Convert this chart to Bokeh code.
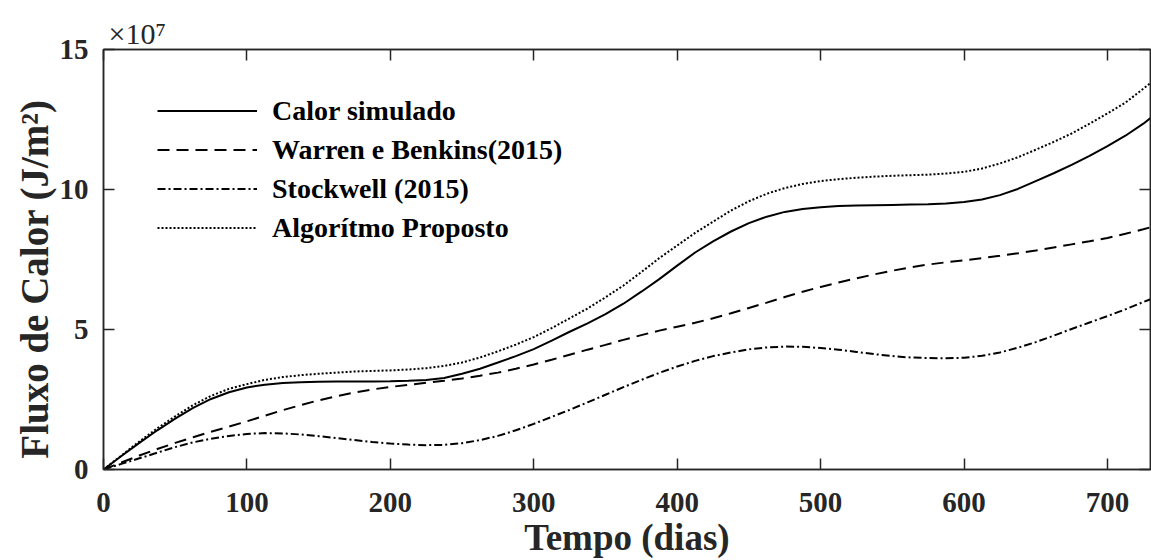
from bokeh.plotting import figure
from bokeh.models import (LinearAxis, Legend, LegendItem, FixedTicker, Range1d,
                          CustomLabelingPolicy)
from bokeh.embed import file_html
from bokeh.resources import INLINE

# ---- data (values in units of 1e7 J/m^2) ----
dias = [0, 12.5, 25, 37.5, 50, 62.5, 75, 87.5, 100, 112.5, 125, 137.5, 150, 162.5,
        175, 187.5, 200, 212.5, 225, 237.5, 250, 262.5, 275, 287.5, 300, 312.5,
        325, 337.5, 350, 362.5, 375, 387.5, 400, 412.5, 425, 437.5, 450, 462.5,
        475, 487.5, 500, 512.5, 525, 537.5, 550, 562.5, 575, 587.5, 600, 612.5,
        625, 637.5, 650, 662.5, 675, 687.5, 700, 712.5, 725, 730]
calor_simulado = [0.0, 0.48, 0.95, 1.4, 1.82, 2.2, 2.52, 2.76, 2.93, 3.03, 3.09, 3.12,
                  3.13, 3.14, 3.14, 3.14, 3.15, 3.17, 3.2, 3.27, 3.42, 3.6, 3.82, 4.05,
                  4.3, 4.6, 4.92, 5.22, 5.55, 5.92, 6.35, 6.8, 7.28, 7.75, 8.15, 8.5,
                  8.8, 9.03, 9.2, 9.3, 9.37, 9.41, 9.43, 9.44, 9.45, 9.46, 9.47, 9.5,
                  9.55, 9.64, 9.8, 10.02, 10.3, 10.58, 10.88, 11.2, 11.55, 11.92,
                  12.35, 12.55]
warren_benkins = [0.0, 0.25, 0.5, 0.73, 0.95, 1.15, 1.35, 1.53, 1.72, 1.92, 2.12, 2.3,
                  2.47, 2.62, 2.75, 2.86, 2.95, 3.02, 3.1, 3.17, 3.25, 3.35, 3.46, 3.6,
                  3.75, 3.92, 4.1, 4.28, 4.45, 4.63, 4.8, 4.96, 5.1, 5.24, 5.4, 5.58,
                  5.77, 5.96, 6.16, 6.35, 6.52, 6.68, 6.83, 6.97, 7.1, 7.22, 7.32, 7.4,
                  7.47, 7.55, 7.63, 7.72, 7.82, 7.93, 8.04, 8.15, 8.27, 8.42, 8.58,
                  8.65]
stockwell = [0.0, 0.2, 0.4, 0.6, 0.8, 0.97, 1.1, 1.2, 1.27, 1.3, 1.29, 1.25, 1.19,
             1.12, 1.05, 0.98, 0.93, 0.89, 0.87, 0.88, 0.94, 1.05, 1.2, 1.4, 1.63,
             1.88, 2.13, 2.4, 2.67, 2.94, 3.2, 3.45, 3.68, 3.88, 4.05, 4.18, 4.29,
             4.36, 4.39, 4.38, 4.34, 4.28, 4.2, 4.12, 4.05, 4.0, 3.98, 3.97, 3.99,
             4.06, 4.18, 4.35, 4.55, 4.78, 5.02, 5.25, 5.48, 5.72, 5.98, 6.08]
algoritmo_proposto = [0.0, 0.5, 1.0, 1.47, 1.9, 2.3, 2.63, 2.88, 3.05, 3.2, 3.3, 3.37,
                      3.42, 3.46, 3.5, 3.52, 3.54, 3.57, 3.62, 3.7, 3.82, 4.0, 4.22,
                      4.46, 4.73, 5.05, 5.4, 5.75, 6.15, 6.57, 7.05, 7.55, 8.0, 8.45,
                      8.85, 9.25, 9.58, 9.85, 10.05, 10.2, 10.3, 10.37, 10.42, 10.46,
                      10.49, 10.51, 10.53, 10.57, 10.63, 10.75, 10.93, 11.15, 11.42,
                      11.7, 12.0, 12.35, 12.72, 13.1, 13.6, 13.8]
series_names = ["Calor simulado", "Warren e Benkins(2015)", "Stockwell (2015)",
                "Algorítmo Proposto"]
x_ticks = [0, 100, 200, 300, 400, 500, 600, 700]
y_ticks = [0, 5, 10, 15]
x_label = "Tempo (dias)"
y_label = "Fluxo de Calor (J/m²)"
exponent_label = "×10⁷"

FONT = "Liberation Serif"
AX = "#262626"

p = figure(width=1151, height=560, output_backend="svg", toolbar_location=None,
           x_range=Range1d(0, 730), y_range=Range1d(0, 15),
           min_border_left=103, min_border_top=49, min_border_right=1,
           min_border_bottom=91)
p.xgrid.visible = False
p.ygrid.visible = False
p.outline_line_color = AX
p.outline_line_width = 1.5
p.background_fill_color = "white"
p.border_fill_color = "white"

p.title.text = exponent_label
p.title.align = "left"
p.title.offset = 5
p.title.standoff = 0
p.title.text_font = FONT
p.title.text_font_size = "30px"
p.title.text_font_style = "normal"
p.title.text_color = AX

def style_axis(ax, ticks, show_labels):
    ax.ticker = FixedTicker(ticks=ticks)
    ax.major_tick_in = 11
    ax.major_tick_out = 0
    ax.minor_tick_in = 0
    ax.minor_tick_out = 0
    ax.major_tick_line_color = AX
    ax.major_tick_line_width = 1.5
    ax.axis_line_color = AX
    ax.axis_line_width = 1.5
    if show_labels:
        ax.major_label_text_font = FONT
        ax.major_label_text_font_style = "bold"
        ax.major_label_text_font_size = "29px"
        ax.major_label_text_color = AX
    else:
        ax.major_label_overrides = {t: "" for t in ticks}
        ax.major_label_policy = CustomLabelingPolicy(
            code="for (const i of indices) indices.unset(i); return indices")
        ax.major_label_standoff = 0

xa = p.xaxis[0]
ya = p.yaxis[0]
style_axis(xa, x_ticks, True)
style_axis(ya, y_ticks, True)
xa.major_label_standoff = 23
ya.major_label_standoff = 15
xa.axis_label = x_label
# trailing no-break spaces nudge the rotated label downward, as in the original
ya.axis_label = y_label + "\u00a0" * 4
for ax, size in ((xa, "37px"), (ya, "39px")):
    ax.axis_label_text_font = FONT
    ax.axis_label_text_font_style = "bold"
    ax.axis_label_text_font_size = size
    ax.axis_label_text_color = AX
xa.axis_label_standoff = 2
ya.axis_label_standoff = 1

top_ax = LinearAxis()
style_axis(top_ax, x_ticks, False)
p.add_layout(top_ax, "above")
right_ax = LinearAxis()
style_axis(right_ax, y_ticks, False)
p.add_layout(right_ax, "right")

r1 = p.line(dias, calor_simulado, line_color="black", line_width=2)
r2 = p.line(dias, warren_benkins, line_color="black", line_width=2, line_dash="12 7")
r3 = p.line(dias, stockwell, line_color="black", line_width=2, line_dash="8 3 2 3")
r4 = p.line(dias, algoritmo_proposto, line_color="black", line_width=2, line_dash="2 2")

legend = Legend(items=[LegendItem(label=n, renderers=[r]) for n, r in
                       zip(series_names, [r1, r2, r3, r4])],
                location=(54, 222), glyph_width=100, glyph_height=39,
                label_height=39, spacing=0, padding=0, margin=0,
                border_line_alpha=0, background_fill_alpha=0,
                label_text_font=FONT, label_text_font_style="bold",
                label_text_font_size="28px", label_standoff=15,
                label_text_color="black")
p.add_layout(legend)

open("out.html", "w").write(file_html(p, INLINE))
